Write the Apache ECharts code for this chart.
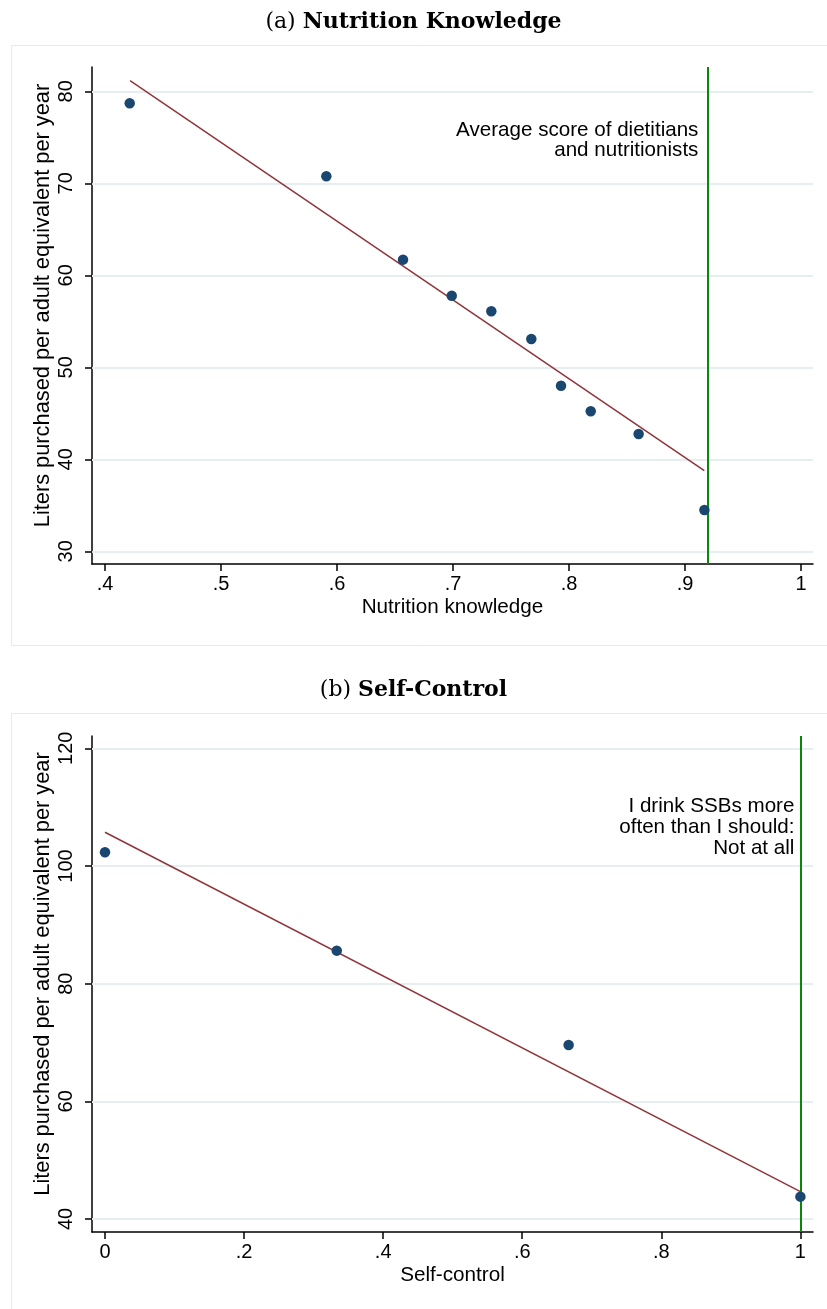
<!DOCTYPE html>
<html>
<head>
<meta charset="utf-8">
<script src="https://cdn.jsdelivr.net/npm/echarts@6/dist/echarts.min.js"></script>
<style>
html,body{margin:0;padding:0;background:#fff;}
#c{width:827px;height:1309px;}
</style>
</head>
<body>
<div id="c"></div>
<script>
// ---- Panel (a): Nutrition knowledge ----
const knX = [0.4213, 0.5908, 0.6569, 0.6989, 0.7330, 0.7675, 0.7931, 0.8187, 0.8600, 0.9167];
const knY = [78.70, 70.76, 61.70, 57.78, 56.09, 53.08, 48.00, 45.22, 42.75, 34.49];
const knFitX = [0.4216, 0.9166];
const knFitY = [81.15, 38.76];
const knRefX = 0.9167;
const knXTicks = [0.4, 0.5, 0.6, 0.7, 0.8, 0.9, 1];
const knYTicks = [30, 40, 50, 60, 70, 80];
const knNote = ['Average score of dietitians', 'and nutritionists'];
const knNoteY = 74.68;

// ---- Panel (b): Self-control ----
const scX = [0, 0.3333, 0.6667, 1];
const scY = [102.33, 85.61, 69.58, 43.80];
const scFitX = [0, 1];
const scFitY = [105.73, 44.64];
const scRefX = 1;
const scXTicks = [0, 0.2, 0.4, 0.6, 0.8, 1];
const scYTicks = [40, 60, 80, 100, 120];
const scNote = ['I drink SSBs more', 'often than I should:', 'Not at all'];
const scNoteY = 106.55;

const yTitle = 'Liters purchased per adult equivalent per year';

const FONT = 'Liberation Sans, Arial, sans-serif';
const FS = 20;
const DOT = '#1a476f';
const FIT = '#90353b';
const REF = '#0a860a';
const GRID = '#e6eef1';

function fmtTick(v) {
  if (v === 0) return '0';
  if (v === 1) return '1';
  return String(v).replace(/^0\./, '.');
}
function pairs(xs, ys) { return xs.map((x, i) => [x, ys[i]]); }

function xAxisFor(idx, min, max, ticks, name) {
  return {
    type: 'value', gridIndex: idx, min: min, max: max,
    name: name, nameLocation: 'middle', nameGap: 33,
    nameTextStyle: { fontFamily: FONT, fontSize: 20.7, color: '#000' },
    axisLine: { show: true, onZero: false, lineStyle: { color: '#000', width: 1.5 } },
    axisTick: { show: true, length: 7, customValues: ticks, lineStyle: { color: '#000', width: 1.5 } },
    axisLabel: { customValues: ticks, margin: 10, formatter: fmtTick, fontFamily: FONT, fontSize: FS, color: '#000' },
    splitLine: { show: false }
  };
}
function yAxisFor(idx, min, max, ticks) {
  return {
    type: 'value', gridIndex: idx, min: min, max: max,
    name: yTitle, nameLocation: 'middle', nameGap: 38, nameRotate: 90, nameMoveOverlap: false,
    nameTextStyle: { fontFamily: FONT, fontSize: 21.8, color: '#000', padding: [0, 0, 0, 20] },
    axisLine: { show: true, onZero: false, lineStyle: { color: '#000', width: 1.5 } },
    axisTick: { show: true, length: 7, customValues: ticks, lineStyle: { color: '#000', width: 1.5 } },
    axisLabel: { customValues: ticks, rotate: 90, margin: 16, fontFamily: FONT, fontSize: FS, color: '#000' },
    splitLine: { show: false }
  };
}
function panelSeries(idx, xs, ys, fx, fy, refX, yTicks, note, noteY, lh) {
  return [
    {
      // background guides: horizontal grid lines and the vertical reference line
      type: 'line', xAxisIndex: idx, yAxisIndex: idx, data: [], z: 1, silent: true,
      markLine: {
        z: 1, silent: true, symbol: ['none', 'none'], animation: false,
        label: { show: false },
        data: yTicks.map(v => ({ yAxis: v, lineStyle: { color: GRID, width: 1.8, type: 'solid' } }))
          .concat([{ xAxis: refX, lineStyle: { color: REF, width: 2, type: 'solid' } }])
      }
    },
    {
      type: 'line', xAxisIndex: idx, yAxisIndex: idx, data: pairs(fx, fy),
      symbol: 'none', lineStyle: { color: FIT, width: 1.5 }, z: 3, silent: true
    },
    {
      type: 'scatter', xAxisIndex: idx, yAxisIndex: idx, data: pairs(xs, ys),
      symbol: 'circle', symbolSize: 10.5, itemStyle: { color: DOT, opacity: 1 }, z: 5
    },
    {
      type: 'scatter', xAxisIndex: idx, yAxisIndex: idx, data: [[refX, noteY]],
      symbolSize: 0, silent: true, z: 6, itemStyle: { opacity: 1 },
      label: {
        show: true, position: 'left', distance: 6,
        formatter: note.join('\n'), align: 'right', verticalAlign: 'middle',
        fontFamily: FONT, fontSize: 20.6, lineHeight: lh, color: '#000',
        textBorderWidth: 0, opacity: 1
      }
    }
  ];
}

const chart = echarts.init(document.getElementById('c'), null, { renderer: 'canvas' });
const titleRich = {
  r: { fontFamily: 'DejaVu Serif, serif', fontSize: 22, fontWeight: 'normal', color: '#000' },
  b: { fontFamily: 'DejaVu Serif, serif', fontSize: 22, fontWeight: 'bold', color: '#000' }
};
chart.setOption({
  animation: false,
  backgroundColor: '#fff',
  graphic: [
    { type: 'rect', shape: { x: 11.5, y: 45.5, width: 830, height: 600 }, style: { fill: '#fff', stroke: '#e3ebee', lineWidth: 1 }, z: -10 },
    { type: 'rect', shape: { x: 11.5, y: 713.5, width: 830, height: 600 }, style: { fill: '#fff', stroke: '#e3ebee', lineWidth: 1 }, z: -10 }
  ],
  title: [
    { text: '{r|(a) }{b|Nutrition Knowledge}', left: 'center', top: 6, textStyle: { rich: titleRich } },
    { text: '{r|(b) }{b|Self-Control}', left: 'center', top: 674, textStyle: { rich: titleRich } }
  ],
  grid: [
    { left: 92, top: 67, width: 721, height: 497, containLabel: false },
    { left: 92, top: 736, width: 721, height: 496, containLabel: false }
  ],
  xAxis: [
    xAxisFor(0, 0.3888, 1.0103, knXTicks, 'Nutrition knowledge'),
    xAxisFor(1, -0.01868, 1.0181, scXTicks, 'Self-control')
  ],
  yAxis: [
    yAxisFor(0, 28.62, 82.64, knYTicks),
    yAxisFor(1, 37.79, 122.09, scYTicks)
  ],
  series: [].concat(
    panelSeries(0, knX, knY, knFitX, knFitY, knRefX, knYTicks, knNote, knNoteY, 19.5),
    panelSeries(1, scX, scY, scFitX, scFitY, scRefX, scYTicks, scNote, scNoteY, 21)
  )
});
</script>
</body>
</html>
